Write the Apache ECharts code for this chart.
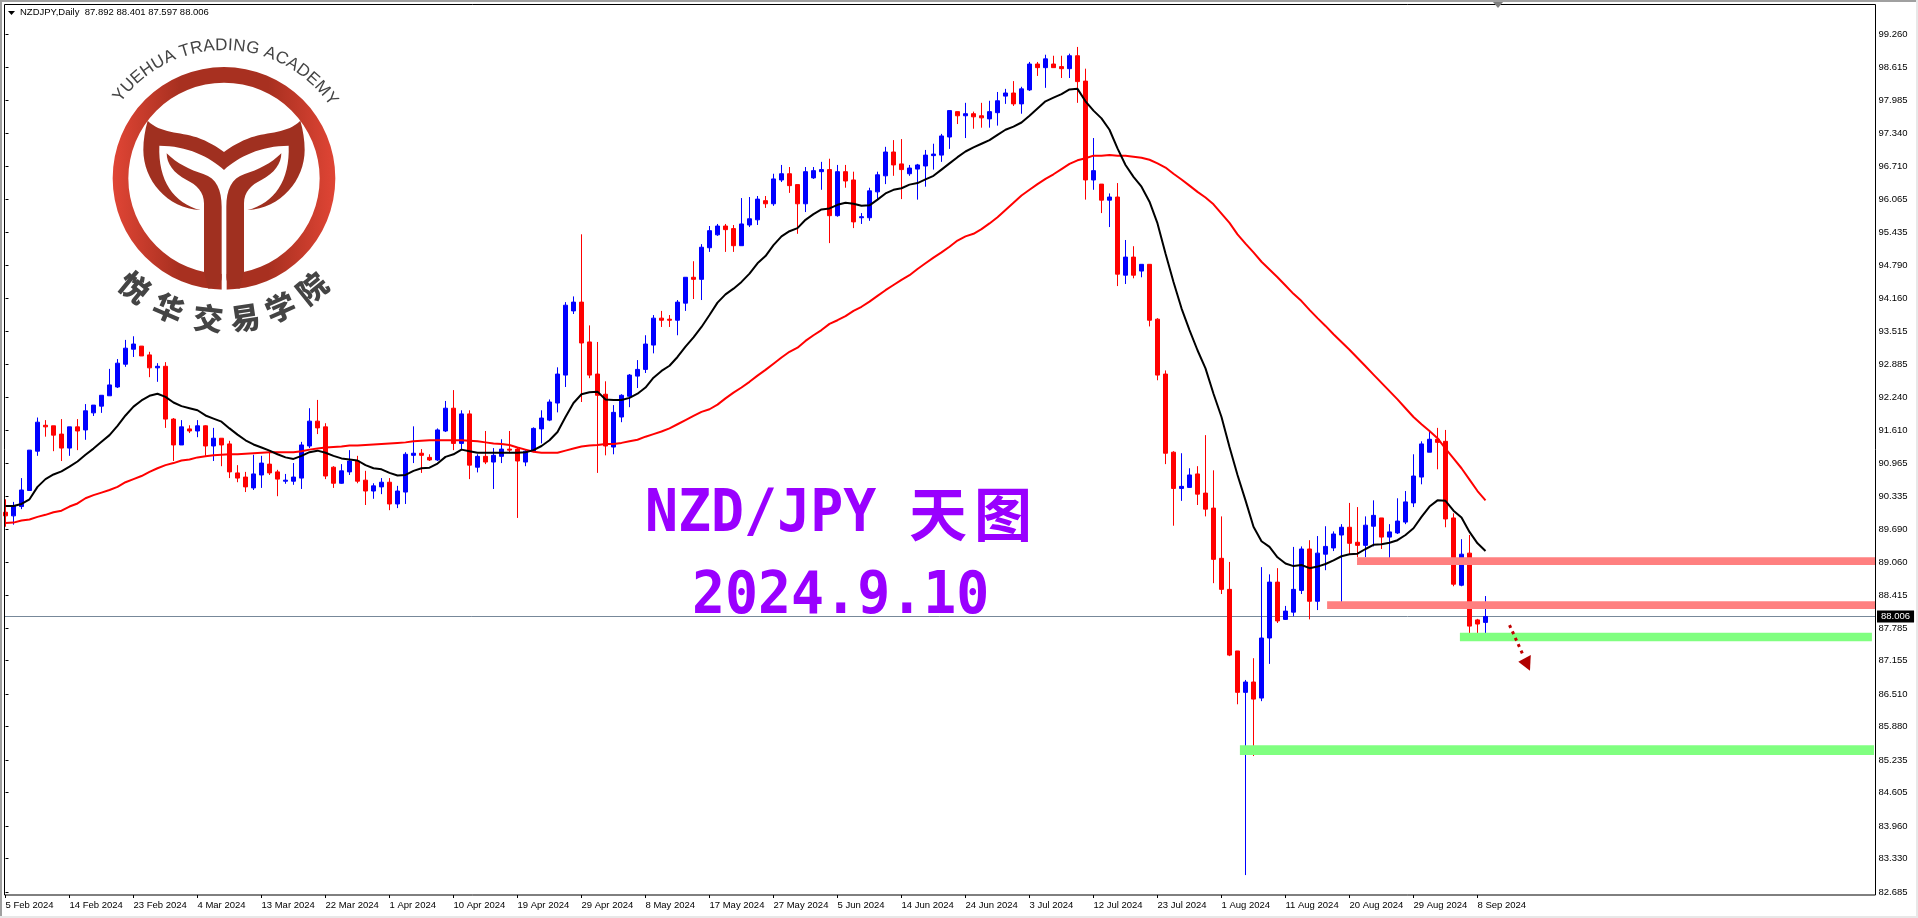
<!DOCTYPE html>
<html>
<head>
<meta charset="utf-8">
<title>NZDJPY Daily</title>
<style>
html,body{margin:0;padding:0;background:#fff;overflow:hidden}
#main{width:1918px;height:918px}
</style>
<script src="https://cdn.jsdelivr.net/npm/echarts@6/dist/echarts.min.js"></script>
</head>
<body>
<div id="main"></div>
<script>
var opens = [
90.02,89.95,90.13,90.44,91.20,91.70,91.69,91.53,91.26,91.67,
91.61,91.94,92.07,92.27,92.44,92.88,93.17,93.23,93.06,92.81,
92.84,91.82,91.32,91.63,91.59,91.69,91.30,91.45,91.34,90.78,
90.70,90.49,90.74,90.95,90.80,90.62,90.62,90.68,91.30,91.78,
91.67,90.89,90.58,90.80,91.01,90.64,90.43,90.51,90.60,90.18,
90.41,91.12,91.16,91.08,91.03,91.59,92.03,91.35,91.92,90.89,
91.10,90.99,91.10,91.24,91.24,90.99,91.20,91.63,91.80,92.13,
92.67,93.91,94.08,93.31,92.69,92.30,91.28,91.86,92.26,92.65,
92.78,93.25,93.77,93.75,93.73,94.06,94.56,94.52,95.13,95.38,
95.55,95.50,95.17,95.57,95.67,96.04,95.98,96.44,96.56,96.35,
95.98,96.48,96.60,96.64,95.75,96.60,96.44,95.71,95.71,96.21,
96.52,96.98,96.75,96.56,96.65,96.71,96.91,96.92,97.27,97.76,
97.68,97.72,97.68,97.62,97.74,98.06,98.12,97.91,98.18,98.68,
98.61,98.68,98.63,98.59,98.84,98.35,96.44,96.36,96.05,96.11,
94.60,94.95,94.68,94.81,93.75,92.69,91.18,90.48,90.50,90.76,
90.39,90.10,89.13,88.53,87.34,86.54,86.74,86.43,87.59,88.67,
87.95,88.09,88.51,89.31,88.30,89.21,89.33,89.58,89.73,89.44,
89.38,89.75,89.91,89.54,89.62,89.83,90.20,90.70,91.18,91.43,
91.39,89.91,88.61,89.23,87.94,87.892];
var closes = [
89.95,90.14,90.45,91.22,91.76,91.67,91.51,91.26,91.67,91.59,
91.98,92.09,92.28,92.48,92.90,93.19,93.27,93.04,92.81,92.84,
91.82,91.32,91.67,91.59,91.69,91.30,91.45,91.32,90.80,90.68,
90.51,90.76,90.97,90.78,90.66,90.64,90.70,91.32,91.78,91.65,
90.72,90.58,90.82,91.01,90.62,90.43,90.53,90.60,90.18,90.43,
91.14,91.16,91.12,91.03,91.61,92.03,91.35,91.92,90.93,91.10,
90.99,91.12,91.24,91.22,91.01,91.20,91.64,91.84,92.15,92.69,
94.02,94.08,93.29,92.67,92.28,91.30,91.95,92.28,92.67,92.78,
93.27,93.77,93.73,93.73,94.08,94.56,94.52,95.14,95.46,95.55,
95.48,95.17,95.59,95.69,96.07,95.98,96.46,96.56,96.33,95.98,
96.60,96.62,96.64,95.75,96.60,96.42,95.63,95.73,96.23,96.54,
96.98,96.73,96.64,96.67,96.73,96.92,96.94,97.29,97.78,97.68,
97.72,97.66,97.64,97.76,97.97,98.12,97.91,98.20,98.68,98.61,
98.78,98.61,98.59,98.84,98.34,96.44,96.62,96.05,96.11,94.62,
94.95,94.60,94.81,93.73,92.67,91.16,90.48,90.52,90.74,90.37,
90.08,89.11,88.53,87.26,86.54,86.74,86.41,87.59,88.67,87.92,
88.11,88.53,89.31,88.30,89.23,89.36,89.60,89.73,89.42,89.38,
89.77,89.96,89.54,89.64,89.85,90.22,90.72,91.34,91.43,91.37,
89.89,88.63,89.21,87.82,87.86,88.006];
var lows = [
89.74,89.78,90.08,90.44,91.11,91.48,91.20,91.01,91.11,91.22,
91.42,91.88,91.94,92.27,92.42,92.83,93.02,93.04,92.63,92.54,
91.65,91.01,91.32,91.55,91.47,91.11,91.01,90.91,90.68,90.60,
90.41,90.45,90.49,90.74,90.33,90.57,90.55,90.47,91.26,91.53,
90.66,90.49,90.57,90.74,90.58,90.16,90.28,90.37,90.06,90.10,
90.18,90.97,90.78,91.01,91.01,91.57,91.22,91.22,90.66,90.79,
90.95,90.47,90.97,91.16,89.91,90.91,91.18,91.35,91.78,91.95,
92.44,93.85,92.15,92.61,90.78,91.12,91.14,91.76,92.05,92.42,
92.71,93.09,93.60,93.60,93.44,93.91,94.14,94.12,95.05,95.36,
95.05,95.05,95.17,95.53,95.57,95.90,95.94,96.40,96.19,95.40,
95.82,96.46,96.25,95.22,95.73,96.29,95.51,95.59,95.65,96.06,
96.36,96.52,96.07,96.52,96.06,96.31,96.64,96.79,97.04,97.52,
97.25,97.43,97.45,97.45,97.49,97.91,97.87,97.72,98.16,98.45,
98.22,98.61,98.41,98.41,97.93,96.06,96.25,95.80,95.53,94.39,
94.43,94.54,94.56,93.61,92.57,90.95,89.76,90.24,90.50,90.16,
89.94,88.65,88.44,87.24,86.31,83.01,85.31,86.37,87.09,87.88,
87.94,88.01,88.44,87.95,88.13,88.90,89.27,88.21,89.21,89.15,
89.15,89.36,89.31,89.09,89.60,89.79,90.12,90.56,91.18,90.85,
89.73,88.59,88.59,87.67,87.57,87.597];
var highs = [
90.27,90.22,90.68,91.22,91.85,91.80,91.69,91.82,91.67,91.82,
92.11,92.09,92.28,92.79,92.98,93.35,93.42,93.23,93.12,92.90,
92.92,91.84,91.80,91.70,91.80,91.70,91.65,91.45,91.40,90.93,
90.80,91.13,91.11,91.18,90.84,90.76,90.97,91.38,92.03,92.19,
91.74,90.91,90.95,91.22,91.11,90.82,90.58,90.68,90.68,90.53,
91.18,91.68,91.24,91.14,91.64,92.17,92.38,91.99,91.99,91.14,
91.59,91.26,91.43,91.59,91.28,91.22,91.66,91.99,92.20,92.82,
94.08,94.19,95.39,93.63,93.31,92.55,92.09,92.30,92.69,92.96,
93.44,93.83,93.91,93.83,94.12,94.56,94.87,95.20,95.55,95.59,
95.59,95.57,96.09,96.11,96.13,96.13,96.56,96.73,96.69,96.35,
96.69,96.69,96.79,96.85,96.73,96.73,96.60,95.80,96.29,96.60,
97.08,97.21,97.23,96.73,96.75,97.02,97.14,97.33,97.78,97.76,
97.93,97.76,97.93,97.97,98.14,98.20,98.35,98.24,98.72,98.72,
98.86,98.84,98.84,98.88,99.01,98.59,97.25,96.36,96.18,96.38,
95.28,95.16,94.81,94.81,93.77,92.76,91.20,91.16,90.87,90.91,
91.51,90.83,89.94,89.06,87.34,86.78,87.20,88.96,88.82,88.94,
88.21,89.35,89.36,89.48,89.56,89.75,89.65,89.79,90.20,90.12,
89.94,90.25,89.91,89.79,90.29,90.43,91.14,91.39,91.57,91.65,
91.61,90.00,89.50,89.58,87.96,88.401];
var fastMa = [
90.14,90.14,90.18,90.27,90.51,90.66,90.75,90.81,90.90,91.00,
91.13,91.25,91.38,91.51,91.69,91.89,92.06,92.18,92.27,92.31,
92.25,92.14,92.07,92.03,91.99,91.89,91.83,91.77,91.64,91.52,
91.41,91.33,91.27,91.21,91.14,91.08,91.05,91.11,91.18,91.21,
91.17,91.11,91.06,91.04,91.02,90.93,90.87,90.85,90.78,90.73,
90.74,90.82,90.87,90.88,90.96,91.09,91.14,91.23,91.20,91.17,
91.17,91.17,91.17,91.17,91.17,91.18,91.22,91.30,91.41,91.57,
91.86,92.13,92.30,92.34,92.35,92.20,92.19,92.19,92.23,92.31,
92.43,92.62,92.75,92.85,93.02,93.22,93.40,93.60,93.83,94.07,
94.23,94.34,94.47,94.63,94.83,94.97,95.18,95.35,95.45,95.51,
95.67,95.78,95.87,95.89,95.96,96.00,95.98,95.94,95.95,96.06,
96.18,96.25,96.28,96.35,96.38,96.45,96.52,96.64,96.76,96.88,
96.99,97.07,97.14,97.21,97.31,97.41,97.47,97.55,97.68,97.82,
97.96,98.03,98.10,98.19,98.20,97.96,97.78,97.63,97.41,97.05,
96.73,96.50,96.31,96.02,95.60,95.02,94.47,93.96,93.54,93.15,
92.80,92.31,91.86,91.28,90.74,90.25,89.74,89.46,89.35,89.15,
89.03,88.98,89.00,88.94,88.97,89.02,89.09,89.17,89.21,89.22,
89.31,89.39,89.40,89.43,89.48,89.58,89.71,89.93,90.13,90.25,
90.24,90.05,89.92,89.64,89.42,89.27];
var slowMa = [
89.81,89.82,89.86,89.88,89.93,89.97,90.02,90.05,90.13,90.19,
90.29,90.35,90.40,90.45,90.51,90.60,90.66,90.72,90.80,90.87,
90.93,90.97,91.02,91.04,91.08,91.10,91.12,91.13,91.14,91.14,
91.15,91.16,91.17,91.18,91.18,91.18,91.18,91.20,91.23,91.25,
91.27,91.28,91.29,91.31,91.31,91.32,91.33,91.34,91.35,91.36,
91.37,91.39,91.40,91.41,91.41,91.41,91.41,91.41,91.40,91.39,
91.37,91.35,91.34,91.32,91.27,91.23,91.19,91.17,91.17,91.17,
91.21,91.25,91.29,91.31,91.32,91.34,91.34,91.36,91.39,91.42,
91.48,91.53,91.58,91.64,91.72,91.80,91.88,91.96,92.01,92.10,
92.22,92.33,92.43,92.54,92.66,92.77,92.89,93.01,93.12,93.20,
93.33,93.44,93.54,93.66,93.73,93.81,93.91,93.99,94.09,94.20,
94.31,94.41,94.51,94.60,94.72,94.83,94.94,95.04,95.15,95.27,
95.35,95.40,95.49,95.60,95.72,95.86,96.00,96.14,96.25,96.36,
96.46,96.55,96.65,96.75,96.82,96.86,96.91,96.91,96.92,96.91,
96.91,96.89,96.87,96.83,96.76,96.68,96.56,96.45,96.33,96.21,
96.10,95.97,95.79,95.61,95.39,95.21,95.04,94.86,94.71,94.56,
94.40,94.24,94.10,93.93,93.77,93.62,93.46,93.31,93.16,93.00,
92.84,92.68,92.52,92.36,92.20,92.03,91.86,91.72,91.59,91.45,
91.25,91.06,90.87,90.65,90.43,90.25];

var dateLabels = ['5 Feb 2024','14 Feb 2024','23 Feb 2024','4 Mar 2024','13 Mar 2024','22 Mar 2024',
    '1 Apr 2024','10 Apr 2024','19 Apr 2024','29 Apr 2024','8 May 2024','17 May 2024','27 May 2024',
    '5 Jun 2024','14 Jun 2024','24 Jun 2024','3 Jul 2024','12 Jul 2024','23 Jul 2024','1 Aug 2024',
    '11 Aug 2024','20 Aug 2024','29 Aug 2024','8 Sep 2024'];
var priceTicks = [99.260,98.615,97.985,97.340,96.710,96.065,95.435,94.790,94.160,93.515,92.885,92.240,91.610,
    90.965,90.335,89.690,89.060,88.415,87.785,87.155,86.510,85.880,85.235,84.605,83.960,83.330,82.685];

// bands: start bar, end bar, top price, bottom price
var redBands = [[168.94,233.75,89.15,89.00],[165.2,233.75,88.30,88.15]];
var greenBands = [[181.8,233.3,87.69,87.53],[154.3,233.56,85.52,85.33]];
var lastPrice = 88.006;
var arrowLine = [[188.0,87.84],[189.7,87.26]];
var arrowHead = [[190.66,87.26],[189.1,87.13],[190.56,86.96]];

var slotCount = 234;

var categories = [];
for (var i = 0; i < slotCount; i++) {
    categories.push(i % 8 == 0 && dateLabels[i / 8] ? dateLabels[i / 8] : '');
}
var candleData = opens.map(function (o, i) {
    return [o, closes[i], lows[i], highs[i]];
});

var uiFont = '"Liberation Sans"';
var logoRed = '#a03020';

echarts.graphic.registerShape('logoWing', echarts.graphic.extendPath(
    'M443 362C480 400 540 395 590 412C625 425 650 440 672 456L672 510C630 470 560 437 478 437' +
    'C474 540 520 610 602 630C500 625 430 540 430 450C430 420 435 390 443 362Z'));
echarts.graphic.registerShape('logoStem', echarts.graphic.extendPath(
    'M500 460C530 490 570 510 610 522C650 535 665 570 665 620L665 832C665 852 650 866 625 866' +
    'L612 815L612 610C612 575 590 555 560 540C520 520 500 490 500 460Z'));

function logoHalf(x, scaleX) {
    return {
        type: 'group', x: x, scaleX: scaleX,
        children: [
            {type: 'logoWing', style: {fill: logoRed}},
            {type: 'logoStem', style: {fill: logoRed}}
        ]
    };
}

var logoCx = 224, logoCy = 178.3;

// brand name along the top of the ring
function arcLatin(text, radius, fromDeg, toDeg, font) {
    var ctx = document.createElement('canvas').getContext('2d');
    ctx.font = font;
    var total = ctx.measureText(text).width;
    var out = [], run = 0;
    for (var i = 0; i < text.length; i++) {
        var w = ctx.measureText(text[i]).width;
        var deg = fromDeg + (toDeg - fromDeg) * (run + w / 2) / total;
        run += w;
        var a = deg * Math.PI / 180;
        out.push({
            type: 'text',
            x: logoCx + radius * Math.sin(a), y: logoCy - radius * Math.cos(a),
            rotation: -a,
            style: {text: text[i], font: font, fill: '#444', align: 'center', verticalAlign: 'middle'}
        });
    }
    return out;
}
function arcCjk(chars, degs, radius, font) {
    return chars.map(function (c, i) {
        var a = degs[i] * Math.PI / 180;
        return {
            type: 'text',
            x: logoCx + radius * Math.sin(a), y: logoCy + radius * Math.cos(a),
            rotation: a,
            style: {text: c, font: font, fill: '#444', align: 'center', verticalAlign: 'middle'}
        };
    });
}

var graphics = [
    {type: 'rect', shape: {x: 0, y: 0, width: 1918, height: 2}, style: {fill: '#a0a0a0'}},
    {type: 'rect', shape: {x: 0, y: 0, width: 2, height: 918}, style: {fill: '#a0a0a0'}},
    {type: 'rect', shape: {x: 1916, y: 0, width: 2, height: 918}, style: {fill: '#e8e8e8'}},
    {type: 'rect', shape: {x: 0, y: 916, width: 1918, height: 2}, style: {fill: '#e8e8e8'}},
    {type: 'rect', z: 20, shape: {x: 4.5, y: 4.5, width: 1871, height: 890.5}, style: {fill: 'none', stroke: '#000', lineWidth: 1}},
    {type: 'polygon', z: 21, shape: {points: [[1493, 2], [1503, 2], [1498, 8]]}, style: {fill: '#808080'}},
    {type: 'polygon', z: 21, shape: {points: [[8, 11], [15, 11], [11.5, 15]]}, style: {fill: '#000'}},
    {type: 'text', x: 20, y: 12.5, style: {text: 'NZDJPY,Daily  87.892 88.401 87.597 88.006', font: '9.5px ' + uiFont, fill: '#000', verticalAlign: 'middle'}},

    {type: 'text', x: 645, y: 516, scaleX: 0.93, style: {text: 'NZD/JPY', font: 'bold 59px "DejaVu Sans Mono"', fill: '#9900ff', verticalAlign: 'middle'}},
    {type: 'text', x: 938, y: 514, style: {text: '天', font: 'bold 58px "Noto Sans CJK SC"', fill: '#9900ff', align: 'center', verticalAlign: 'middle'}},
    {type: 'text', x: 1003, y: 514, style: {text: '图', font: 'bold 58px "Noto Sans CJK SC"', fill: '#9900ff', align: 'center', verticalAlign: 'middle'}},
    {type: 'text', x: 692, y: 598, scaleX: 0.93, style: {text: '2024.9.10', font: 'bold 59px "DejaVu Sans Mono"', fill: '#9900ff', verticalAlign: 'middle'}},

    {
        type: 'group', x: 0, y: 0, scaleX: 1 / 3, scaleY: 1 / 3,
        children: [
            {
                type: 'ring', shape: {cx: 672, cy: 535, r: 334, r0: 287},
                style: {fill: new echarts.graphic.LinearGradient(0, 0, 1, 0, [
                    {offset: 0, color: '#e04535'}, {offset: 0.3, color: '#a83020'},
                    {offset: 0.7, color: '#a83020'}, {offset: 1, color: '#e04535'}
                ])}
            },
            {type: 'rect', shape: {x: 665, y: 810, width: 15, height: 70}, style: {fill: '#fff'}},
            logoHalf(0, 1),
            logoHalf(1344, -1)
        ]
    }
].concat(
    arcLatin('YUEHUA TRADING ACADEMY', 133, -54, 56, '17px "Liberation Sans"'),
    arcCjk(['悦', '华', '交', '易', '学', '院'], [-39.4, -23.2, -6.4, 8.6, 23.6, 38.7], 141, '900 30px "Noto Sans CJK SC"')
);

function bandItem(color) {
    return function (params, api) {
        var a = api.coord([api.value(0), api.value(2)]);
        var b = api.coord([api.value(1), api.value(3)]);
        return {
            type: 'rect',
            shape: {x: a[0], y: a[1], width: b[0] - a[0], height: b[1] - a[1]},
            style: {fill: color, blend: 'multiply'}
        };
    };
}

var myChart = echarts.init(document.getElementById('main'));
var option = {
    animation: false,
    backgroundColor: '#fff',
    graphic: {elements: graphics},
    grid: {left: 5.5, width: 1864, top: 4.5, height: 890.5, show: false},
    xAxis: [
        {
            type: 'category',
            boundaryGap: false,
            data: categories,
            axisLine: {show: false},
            axisTick: {
                length: 3, lineStyle: {color: '#000'},
                interval: function (index, value) { return value !== ''; }
            },
            axisLabel: {
                align: 'left', margin: 5, color: '#000', fontFamily: uiFont, fontSize: 9.5,
                interval: function (index, value) { return value !== ''; }
            },
            splitLine: {show: false}
        },
        {type: 'value', show: false, min: 0, max: slotCount - 1, splitLine: {show: false}}
    ],
    yAxis: {
        type: 'value',
        position: 'right',
        offset: 6,
        min: 82.625,
        max: 99.83,
        axisLine: {show: false},
        axisTick: {length: 3, lineStyle: {color: '#000'}, customValues: priceTicks},
        axisLabel: {
            margin: 3, color: '#000', fontFamily: uiFont, fontSize: 9.5, customValues: priceTicks,
            formatter: function (v) { return v.toFixed(3); }
        },
        splitLine: {show: false}
    },
    series: [
        {
            name: 'last',
            type: 'custom',
            xAxisIndex: 1,
            z: 1,
            silent: true,
            data: [[-0.19, slotCount - 0.25, lastPrice]],
            renderItem: function (params, api) {
                var a = api.coord([api.value(0), api.value(2)]);
                var b = api.coord([api.value(1), api.value(2)]);
                return {
                    type: 'group',
                    children: [
                        {type: 'line', shape: {x1: a[0], y1: Math.round(a[1]) + 0.5, x2: b[0], y2: Math.round(a[1]) + 0.5}, style: {stroke: '#778899', lineWidth: 1}},
                        {
                            type: 'text', x: 1877, y: a[1],
                            style: {
                                text: lastPrice.toFixed(3), font: '9.5px ' + uiFont, fill: '#fff', verticalAlign: 'middle',
                                backgroundColor: '#000', padding: [1, 4, 1, 4]
                            }
                        }
                    ]
                };
            }
        },
        {
            name: 'NZDJPY',
            type: 'candlestick',
            z: 2,
            silent: true,
            barWidth: 4,
            data: candleData,
            itemStyle: {color: '#0000ff', color0: '#ff0000', borderColor: '#0000ff', borderColor0: '#ff0000', borderWidth: 1}
        },
        {name: 'slow', type: 'line', z: 3, silent: true, symbol: 'none', data: slowMa, lineStyle: {color: '#ff0000', width: 2}},
        {name: 'fast', type: 'line', z: 3, silent: true, symbol: 'none', data: fastMa, lineStyle: {color: '#000', width: 2}},
        {name: 'resistance', type: 'custom', xAxisIndex: 1, z: 4, silent: true, data: redBands, renderItem: bandItem('#ff8080')},
        {name: 'support', type: 'custom', xAxisIndex: 1, z: 4, silent: true, data: greenBands, renderItem: bandItem('#80ff80')},
        {
            name: 'arrow',
            type: 'custom',
            xAxisIndex: 1,
            z: 5,
            silent: true,
            data: [0],
            renderItem: function (params, api) {
                var p0 = api.coord(arrowLine[0]), p1 = api.coord(arrowLine[1]);
                return {
                    type: 'group',
                    children: [
                        {type: 'line', shape: {x1: p0[0], y1: p0[1], x2: p1[0], y2: p1[1]}, style: {stroke: '#c00000', lineWidth: 3, lineDash: [3, 4]}},
                        {type: 'polygon', shape: {points: arrowHead.map(function (p) { return api.coord(p); })}, style: {fill: '#b00000'}}
                    ]
                };
            }
        }
    ]
};
myChart.setOption(option);
</script>
</body>
</html>
